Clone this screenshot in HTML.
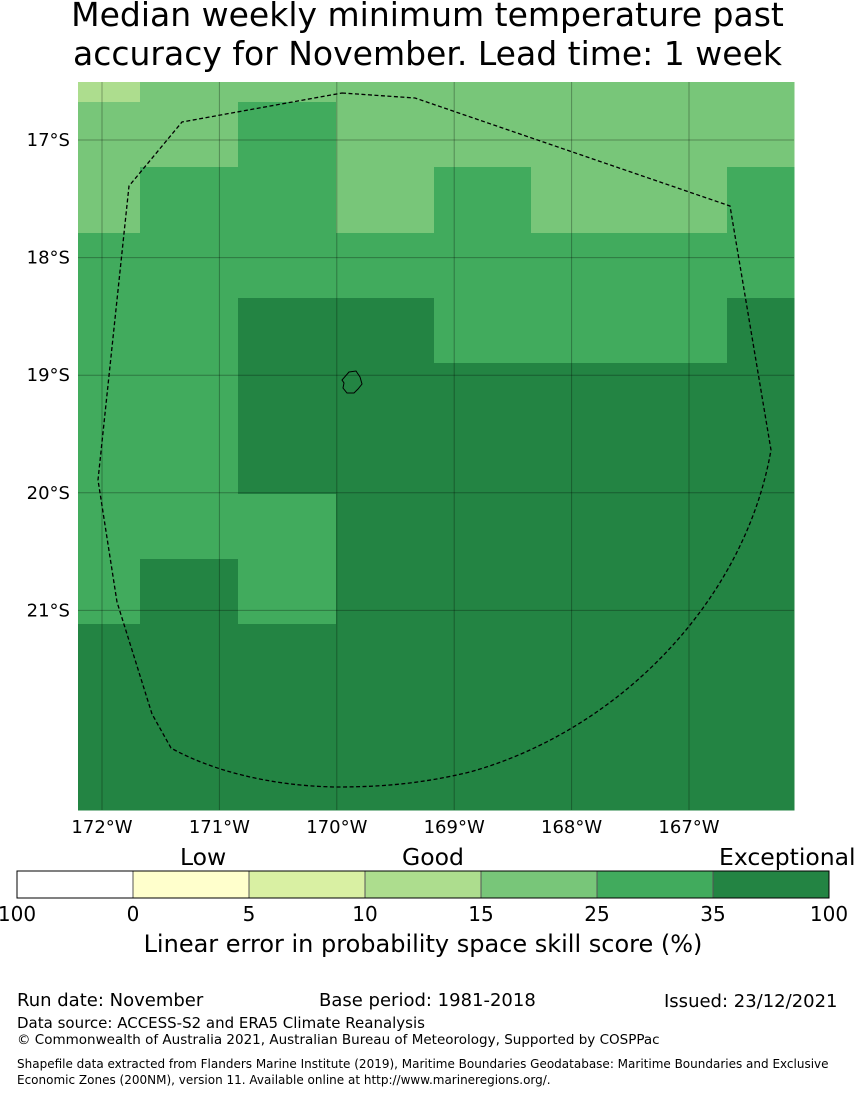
<!DOCTYPE html>
<html><head><meta charset="utf-8"><style>
body{margin:0;background:#fff;font-family:"DejaVu Sans","Liberation Sans",sans-serif;}
#wrap{position:relative;width:855px;height:1095px;overflow:hidden;background:#fff}
.t{position:absolute;white-space:nowrap;color:#000}
</style></head><body>
<div id="wrap">
<div class="t" style="left:0;width:855px;text-align:center;top:-5px;font-size:33px;line-height:39px">Median weekly minimum temperature past<br>accuracy for November. Lead time: 1 week</div>
<svg id="map" width="855" height="1095" style="position:absolute;left:0;top:0"></svg>
<div class="t" style="left:180px;top:843px;font-size:23.5px">Low</div>
<div class="t" style="left:402px;top:843px;font-size:23.5px">Good</div>
<div class="t" style="left:719px;top:843px;font-size:23.5px">Exceptional</div>
<div class="t" style="left:0;width:846px;text-align:center;top:930px;font-size:24px">Linear error in probability space skill score (%)</div>
<div class="t" style="left:17px;top:990px;font-size:18px">Run date: November</div>
<div class="t" style="left:319px;top:990px;font-size:18px">Base period: 1981-2018</div>
<div class="t" style="left:664px;top:991px;font-size:18px">Issued: 23/12/2021</div>
<div class="t" style="left:17px;top:1014px;font-size:15px">Data source: ACCESS-S2 and ERA5 Climate Reanalysis</div>
<div class="t" style="left:17px;top:1032px;font-size:13.5px">© Commonwealth of Australia 2021, Australian Bureau of Meteorology, Supported by COSPPac</div>
<div class="t" style="left:17px;top:1056px;font-size:12px;line-height:16px">Shapefile data extracted from Flanders Marine Institute (2019), Maritime Boundaries Geodatabase: Maritime Boundaries and Exclusive<br>Economic Zones (200NM), version 11. Available online at http://www.marineregions.org/.</div>
</div>
<script>
const catColors=["#ffffff","#ffffcc","#d9f0a3","#addd8e","#78c679","#41ab5d","#238443"];
const barTicks=["100","0","5","10","15","25","35","100"];
const grid=[
[3,4,4,4,4,4,4,4],
[4,4,5,4,4,4,4,4],
[4,5,5,4,5,4,4,5],
[5,5,5,5,5,5,5,5],
[5,5,6,6,5,5,5,6],
[5,5,6,6,6,6,6,6],
[5,5,6,6,6,6,6,6],
[5,5,5,6,6,6,6,6],
[5,6,5,6,6,6,6,6],
[6,6,6,6,6,6,6,6],
[6,6,6,6,6,6,6,6],
[6,6,6,6,6,6,6,6]];
const lonTicks=[-172,-171,-170,-169,-168,-167];
const latTicks=[-17,-18,-19,-20,-21];
const S="http://www.w3.org/2000/svg",svg=document.getElementById('map');
function mk(t,a){const e=document.createElementNS(S,t);for(const k in a)e.setAttribute(k,a[k]);svg.appendChild(e);return e;}
const X0=78,X1=794,Y0=82,Y1=810;
const FF='DejaVu Sans, Liberation Sans, sans-serif';
const lonX=l=>102+(l+172)*117.4, latY=l=>140+(-17-l)*117.6;
const colEdges=[78,140,238,336,434,531,629,727,794];
const rowEdges=[82,102,167,233,298,363,429,494,559,624,690,755,810];
grid.forEach((row,r)=>row.forEach((v,c)=>{
 const e=mk('rect',{x:colEdges[c],y:rowEdges[r],width:colEdges[c+1]-colEdges[c]+0.5,height:rowEdges[r+1]-rowEdges[r]+0.5,fill:catColors[v]});
 
 
}));
lonTicks.forEach(l=>{const x=lonX(l);
 const g=mk('line',{x1:x,x2:x,y1:Y0,y2:Y1,stroke:'#000','stroke-opacity':0.3,'stroke-width':1});
 
 const t=mk('text',{x:x,y:833,'font-size':18,'text-anchor':'middle','font-family':FF});t.textContent=Math.abs(l)+'°W';
 });
latTicks.forEach(l=>{const y=latY(l);
 const g=mk('line',{x1:X0,x2:X1,y1:y,y2:y,stroke:'#000','stroke-opacity':0.3,'stroke-width':1});
 
 const t=mk('text',{x:70,y:y+6,'font-size':18,'text-anchor':'end','font-family':FF});t.textContent=Math.abs(l)+'°S';
 });
const eez=mk('path',{d:'M342,93 L415,98 L730,206 L771,450 C745,600 620,730 470,772 C420,784 380,787 336,787 C270,786 210,770 171,748 L152,714 L117,602 L98,480 L129,186 L182,122 Z',fill:'none',stroke:'#000','stroke-width':1.3,'stroke-dasharray':'4,2.5'});

const isl=mk('path',{d:'M349,372 L356,371 L360,377 L362,384 L358,389 L354,393 L347,393 L343,388 L344,383 L342,380 Z',fill:'none',stroke:'#000','stroke-width':1});

const cbX=17,cbW=116,cbY=871,cbH=27;
for(let i=0;i<7;i++){const e=mk('rect',{x:cbX+i*cbW,y:cbY,width:cbW,height:cbH,fill:catColors[i],stroke:'#555','stroke-width':1});
 }
mk('rect',{x:cbX,y:cbY,width:cbW*7,height:cbH,fill:'none',stroke:'#000','stroke-width':1});
barTicks.forEach((s,i)=>{const t=mk('text',{x:cbX+i*cbW,y:921,'font-size':20,'text-anchor':'middle','font-family':FF});t.textContent=s;
 });
</script>
</body></html>
